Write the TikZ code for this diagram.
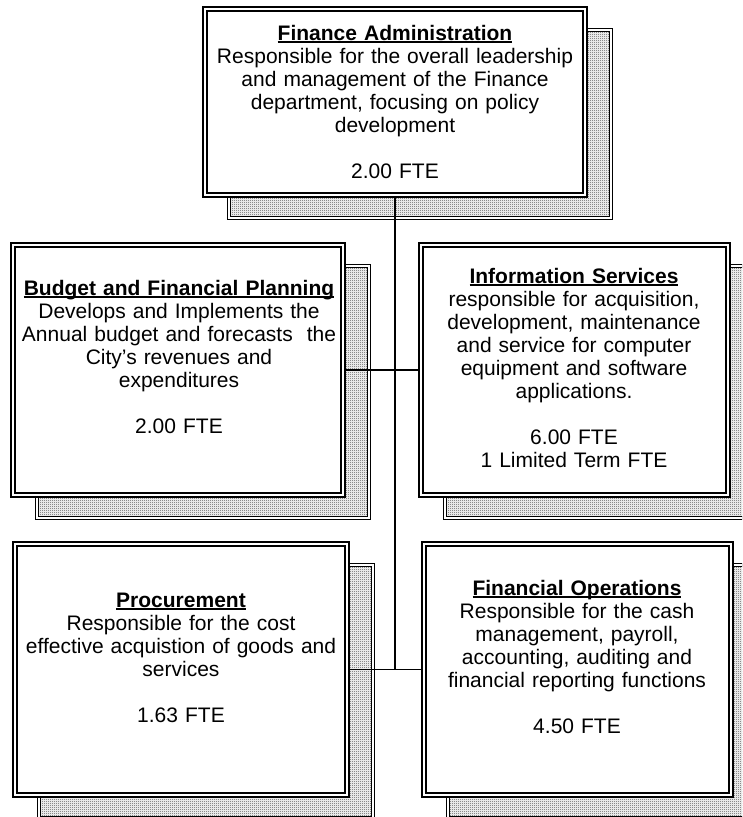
\documentclass[tikz,border=0pt]{standalone}
\usepackage{fontspec}
\setmainfont{Liberation Sans}[Ligatures=ResetAll]
\usetikzlibrary{patterns}
\pgfdeclarepatternformonly{finechk}{\pgfqpoint{0pt}{0pt}}{\pgfqpoint{2pt}{2pt}}{\pgfqpoint{2pt}{2pt}}{%
  \pgfpathrectangle{\pgfqpoint{0pt}{0pt}}{\pgfqpoint{1pt}{1pt}}%
  \pgfpathrectangle{\pgfqpoint{1pt}{1pt}}{\pgfqpoint{1pt}{1pt}}%
  \pgfusepath{fill}}
\newcommand\myul[1]{\setbox0\hbox{\textbf{#1}}\rlap{\rule[-2.6pt]{\wd0}{1.4pt}}\box0}
\begin{document}
\begin{tikzpicture}[x=1pt,y=-1pt,
  box/.style={draw=black, line width=1.8pt, double=white, double distance=2.4pt, fill=white, inner sep=0pt, outer sep=3pt},
  shade/.style={draw=black, line width=1pt, double=white, double distance=2.2pt, preaction={fill=white}, pattern=finechk, pattern color=black!70, inner sep=0pt},
  txt/.style={anchor=base, align=center, text width=380pt, font=\fontsize{21}{23}\selectfont, inner sep=0pt},
  conn/.style={draw=black, line width=1.8pt}]
\useasboundingbox (0,0) rectangle (742,817);
\clip (0,0) rectangle (742,817);
% shadows
\node[shade, minimum width=381.8pt, minimum height=187.8pt] (tops) at (420,124) {};
\node[shade, minimum width=331.8pt, minimum height=251.8pt] (budgets) at (203,392) {};
\node[shade, minimum width=308.8pt, minimum height=251.8pt] (infos) at (599.5,392) {};
\node[shade, minimum width=333.8pt, minimum height=252.8pt] (procs) at (206,691.5) {};
\node[shade, minimum width=308.8pt, minimum height=252.8pt] (finopss) at (602.5,691.5) {};
% boxes
\node[box, minimum width=380pt, minimum height=186pt] (top) at (395,102) {};
\node[box, minimum width=330pt, minimum height=250pt] (budget) at (178,370) {};
\node[box, minimum width=307pt, minimum height=250pt] (info) at (574.5,370) {};
\node[box, minimum width=332pt, minimum height=251pt] (proc) at (181,669.5) {};
\node[box, minimum width=307pt, minimum height=251pt] (finops) at (577.5,669.5) {};
% texts
\node[txt] (topt) at (395,40) {\myul{Finance Administration}\\Responsible for the overall leadership\\and management of the Finance\\department, focusing on policy\\development\\[23pt]2.00 FTE};
\node[txt] (budgett) at (179,295) {\myul{Budget and Financial Planning}\\Develops and Implements the\\Annual budget and forecasts\ \ the\\City's revenues and\\expenditures\\[23pt]2.00 FTE};
\node[txt] (infot) at (574,283) {\myul{Information Services}\\responsible for acquisition,\\development, maintenance\\and service for computer\\equipment and software\\applications.\\[23pt]6.00 FTE\\1 Limited Term FTE};
\node[txt] (proct) at (181,607) {\myul{Procurement}\\Responsible for the cost\\effective acquistion of goods and\\services\\[23pt]1.63 FTE};
\node[txt] (finopst) at (577,595) {\myul{Financial Operations}\\Responsible for the cash\\management, payroll,\\accounting, auditing and\\financial reporting functions\\[23pt]4.50 FTE};
% connectors
\coordinate (j) at (top.south |- proc.east);
\draw[conn] (top.south) -- (j);
\draw[conn] (budget.east) -- (info.west);
\draw[conn] (proc.east) -- (finops.west);
\end{tikzpicture}
\end{document}
